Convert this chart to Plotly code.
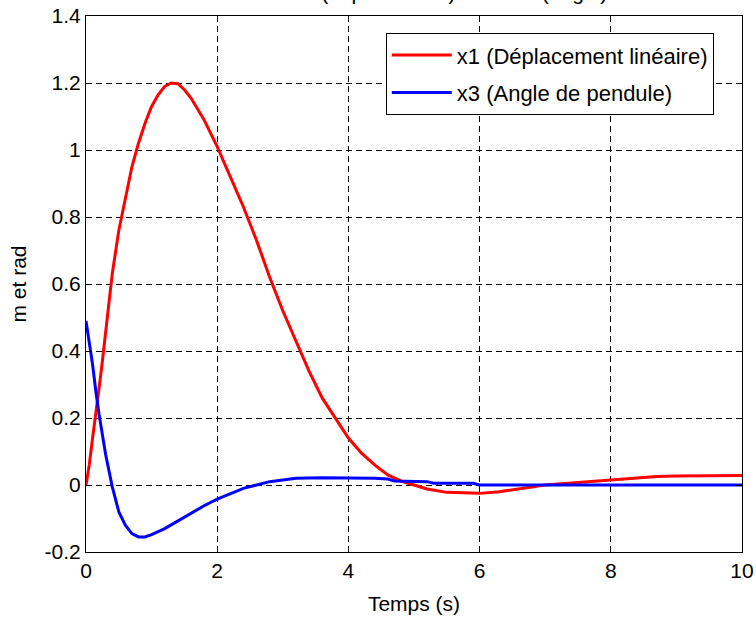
import plotly.graph_objects as go

# ---- data ----
t_x1 = [0, 0.05, 0.1, 0.15, 0.2, 0.25, 0.3, 0.4, 0.5, 0.6, 0.7, 0.8, 0.9, 1.0, 1.1, 1.2, 1.3,
        1.4, 1.5, 1.6, 1.8, 2.0, 2.2, 2.4, 2.6, 2.8, 3.0, 3.2, 3.4, 3.6, 3.8, 4.0, 4.2, 4.4,
        4.6, 4.8, 5.0, 5.2, 5.5, 5.8, 6.0, 6.3, 6.6, 7.0, 7.4, 7.8, 8.2, 8.7, 9.0, 9.5, 10]
x1 = [0, 0.06, 0.14, 0.21, 0.29, 0.37, 0.46, 0.63, 0.76, 0.86, 0.95, 1.02, 1.08, 1.13, 1.165, 1.19, 1.2,
      1.198, 1.18, 1.155, 1.09, 1.01, 0.92, 0.83, 0.73, 0.62, 0.52, 0.43, 0.34, 0.26, 0.2, 0.14, 0.095, 0.06,
      0.03, 0.012, 0.0, -0.012, -0.022, -0.025, -0.025, -0.02, -0.012, 0.0, 0.006, 0.012, 0.018, 0.025, 0.027, 0.028, 0.028]

t_x3 = [0, 0.05, 0.1, 0.15, 0.2, 0.3, 0.4, 0.5, 0.6, 0.7, 0.8, 0.9, 1.0, 1.2, 1.4, 1.6, 1.8,
        2.0, 2.2, 2.4, 2.6, 2.8, 3.0, 3.2, 3.6, 4.0, 4.4, 4.6, 4.7, 5.2, 5.3, 5.9, 6.0, 8.0, 10]
x3 = [0.49, 0.43, 0.36, 0.28, 0.21, 0.09, -0.005, -0.08, -0.12, -0.145, -0.155, -0.155, -0.148, -0.13,
      -0.107, -0.085, -0.062, -0.042, -0.025, -0.01, 0.0, 0.01, 0.015, 0.02, 0.022, 0.022, 0.02, 0.018,
      0.012, 0.01, 0.005, 0.005, 0.0, 0.0, 0.0]

x_ticks = [0, 2, 4, 6, 8, 10]
x_ticktext = ["0", "2", "4", "6", "8", "10"]
y_ticks = [-0.2, 0, 0.2, 0.4, 0.6, 0.8, 1.0, 1.2, 1.4]
y_ticktext = ["-0.2", "0", "0.2", "0.4", "0.6", "0.8", "1", "1.2", "1.4"]

name_x1 = "x1 (Déplacement linéaire)"
name_x3 = "x3 (Angle de pendule)"
title_text = "Sorties x1 (déplacement) et de x3 (angle)"
FONT = "Liberation Sans, Arial, sans-serif"
FS = 21

fig = go.Figure()
fig.add_trace(go.Scatter(x=t_x1, y=x1, mode="lines", name=name_x1, legendgroup="a",
                         line=dict(color="#ff0000", width=3)))
fig.add_trace(go.Scatter(x=t_x3, y=x3, mode="lines", name=name_x3, legendgroup="b",
                         line=dict(color="#0000ff", width=3)))

axis_common = dict(showline=True, linecolor="black", linewidth=1, mirror="ticks",
                   ticks="inside", ticklen=6, tickcolor="black", tickwidth=1,
                   showgrid=True, gridcolor="black", gridwidth=1, griddash="6px,4px",
                   zeroline=False, automargin=False,
                   tickfont=dict(family=FONT, size=FS, color="black"))

fig.update_xaxes(range=[0, 10], tickvals=x_ticks, ticktext=x_ticktext,
                 title=dict(text="Temps (s)", font=dict(family=FONT, size=FS, color="black"), standoff=15),
                 **axis_common)
fig.update_yaxes(range=[-0.2, 1.4], tickvals=y_ticks, ticktext=y_ticktext,
                 title=dict(text="m et rad", font=dict(family=FONT, size=FS, color="black"), standoff=12),
                 **axis_common)

fig.add_annotation(text=title_text, xref="paper", yref="paper", x=0.5, y=1,
                   xanchor="center", yanchor="bottom", yshift=10, showarrow=False,
                   font=dict(family=FONT, size=FS, color="black"))

fig.update_layout(
    width=756, height=624,
    margin=dict(l=86, r=14, t=16, b=72),
    paper_bgcolor="white", plot_bgcolor="white",
    font=dict(family=FONT, size=FS, color="black"),
    showlegend=True,
    legend=dict(x=0.457, y=0.968, xanchor="left", yanchor="top",
                bgcolor="white", bordercolor="black", borderwidth=1,
                font=dict(family=FONT, size=22, color="black"),
                traceorder="grouped", itemwidth=60, tracegroupgap=6),
)

fig.write_html("out.html")
